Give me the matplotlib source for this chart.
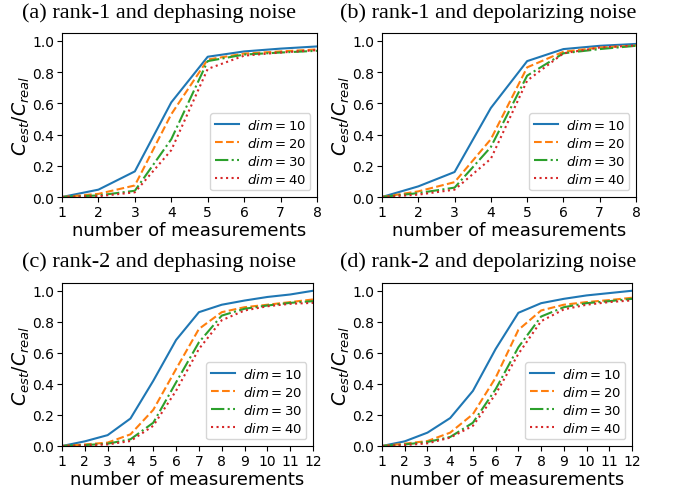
import numpy as np
import matplotlib
matplotlib.use('Agg')
from matplotlib import pyplot as plt

# x values
x8 = [1, 2, 3, 4, 5, 6, 7, 8]
x12 = [1, 2, 3, 4, 5, 6, 7, 8, 9, 10, 11, 12]
dims = [10, 20, 30, 40]

# (a) rank-1, dephasing
a_10 = [0.0, 0.047, 0.164, 0.606, 0.898, 0.932, 0.950, 0.964]
a_20 = [0.0, 0.020, 0.074, 0.530, 0.880, 0.918, 0.932, 0.945]
a_30 = [0.0, 0.010, 0.040, 0.370, 0.870, 0.912, 0.925, 0.936]
a_40 = [0.0, 0.005, 0.030, 0.300, 0.820, 0.905, 0.925, 0.940]

# (b) rank-1, depolarizing
b_10 = [0.0, 0.068, 0.160, 0.570, 0.870, 0.947, 0.968, 0.980]
b_20 = [0.0, 0.036, 0.095, 0.370, 0.830, 0.930, 0.957, 0.970]
b_30 = [0.0, 0.025, 0.060, 0.320, 0.777, 0.920, 0.947, 0.968]
b_40 = [0.0, 0.015, 0.047, 0.245, 0.745, 0.920, 0.957, 0.970]

# (c) rank-2, dephasing
c_10 = [0.0, 0.030, 0.070, 0.177, 0.420, 0.683, 0.862, 0.910, 0.937, 0.960, 0.976, 1.000]
c_20 = [0.0, 0.010, 0.022, 0.075, 0.233, 0.496, 0.754, 0.862, 0.894, 0.910, 0.927, 0.944]
c_30 = [0.0, 0.006, 0.015, 0.043, 0.150, 0.410, 0.668, 0.840, 0.884, 0.905, 0.922, 0.933]
c_40 = [0.0, 0.004, 0.010, 0.032, 0.130, 0.356, 0.625, 0.810, 0.873, 0.900, 0.916, 0.922]

# (d) rank-2, depolarizing
d_10 = [0.0, 0.030, 0.086, 0.180, 0.355, 0.625, 0.858, 0.920, 0.948, 0.970, 0.985, 1.000]
d_20 = [0.0, 0.015, 0.032, 0.086, 0.205, 0.440, 0.748, 0.873, 0.910, 0.927, 0.940, 0.955]
d_30 = [0.0, 0.010, 0.026, 0.058, 0.150, 0.366, 0.636, 0.834, 0.894, 0.920, 0.933, 0.948]
d_40 = [0.0, 0.006, 0.017, 0.054, 0.130, 0.334, 0.593, 0.804, 0.880, 0.910, 0.927, 0.938]

titles = ['(a) rank-1 and dephasing noise', '(b) rank-1 and depolarizing noise',
          '(c) rank-2 and dephasing noise', '(d) rank-2 and depolarizing noise']
panels = [(x8, [a_10, a_20, a_30, a_40]),
          (x8, [b_10, b_20, b_30, b_40]),
          (x12, [c_10, c_20, c_30, c_40]),
          (x12, [d_10, d_20, d_30, d_40])]

styles = ['-', '--', '-.', ':']
colors = ['tab:blue', 'tab:orange', 'tab:green', 'tab:red']

W, H = 678, 489
fig = plt.figure(figsize=(W / 100, H / 100), dpi=100)

# axes boxes in pixels: left, top, right, bottom
boxes = [(62, 34, 317, 198), (382, 34, 636, 198),
         (62, 284, 313, 447), (382, 284, 632, 447)]
title_pos = [(159, 13), (488, 13), (159, 262), (488, 262)]

for i in range(4):
        l, t, r, b = boxes[i]
        ax = fig.add_axes([l / W, 1 - b / H, (r - l) / W, (b - t) / H])
        xs, series = panels[i]
        for k in range(4):
                ax.plot(xs, series[k], linestyle=styles[k], color=colors[k],
                        linewidth=1.5, label='$dim=%d$' % dims[k])
        ax.set_xlim(xs[0], xs[-1])
        ax.set_ylim(0, 1.05)
        ax.set_xticks(xs)
        ax.set_yticks([0, 0.2, 0.4, 0.6, 0.8, 1.0])
        ax.tick_params(labelsize=10, length=3.5, pad=2)
        ax.set_xlabel('number of measurements', fontsize=13, labelpad=2)
        ax.set_ylabel('$C_{est}/C_{real}$', fontsize=13.5, labelpad=0)
        ax.legend(loc='lower right', fontsize=9.5, handlelength=1.8,
                  handletextpad=0.6, labelspacing=0.3, borderpad=0.35,
                  borderaxespad=0.5)
        tx, ty = title_pos[i]
        fig.text(tx / W, 1 - ty / H, titles[i], ha='center', va='center',
                 fontsize=16, family='Liberation Serif')

plt.savefig('out.png', dpi=100)
